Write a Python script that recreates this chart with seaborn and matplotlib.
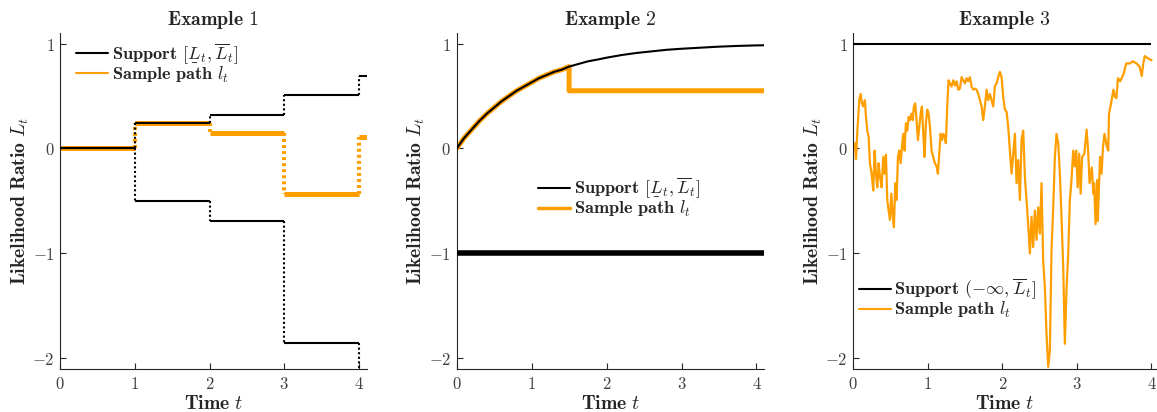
import pandas as pd
import matplotlib.pyplot as plt
import seaborn as sns
from matplotlib.lines import Line2D
from matplotlib.mathtext import MathTextParser

sns.set_theme(style="ticks")
plt.rcParams['mathtext.fontset'] = 'cm'
plt.rcParams['axes.unicode_minus'] = True

# ---------------------------------------------------------------------------
# data
# ---------------------------------------------------------------------------
# Example 1: piecewise constant support and sample path, jumps at integer times
ex1_times = [0, 1, 2, 3, 4, 4.1]
ex1_upper = [0.00, 0.24, 0.32, 0.51, 0.69]
ex1_lower = [0.00, -0.50, -0.69, -1.85, -2.30]
ex1_path = [0.00, 0.24, 0.15, -0.43, 0.11]

# Example 2: smooth upper bound, flat lower bound, path jumps down at t=1.5
ex2_t = [0, 0.1, 0.2, 0.3, 0.4, 0.5, 0.6, 0.7, 0.8, 0.9, 1.0, 1.1, 1.2, 1.3,
         1.4, 1.5, 1.6, 1.75, 1.9, 2.0, 2.2, 2.4, 2.6, 2.8, 3.0, 3.25, 3.5,
         3.75, 4.0, 4.1]
ex2_upper = [0.00, 0.10, 0.18, 0.26, 0.33, 0.39, 0.45, 0.50, 0.55, 0.59,
             0.63, 0.67, 0.70, 0.73, 0.75, 0.78, 0.80, 0.83, 0.85, 0.865,
             0.89, 0.91, 0.925, 0.94, 0.95, 0.96, 0.97, 0.977, 0.982, 0.983]
ex2_lower = -1.0
ex2_jump_t = 1.5
ex2_path_after = 0.55

# Example 3: constant upper bound, noisy sample path
ex3_upper = 1.0
ex3_t = [0.000, 0.022, 0.036, 0.058, 0.080, 0.098, 0.116, 0.134, 0.156, 0.170,
         0.188, 0.206, 0.223, 0.246, 0.268, 0.286, 0.304, 0.322, 0.340, 0.358,
         0.380, 0.402, 0.420, 0.438, 0.456, 0.474, 0.492, 0.510, 0.527, 0.545,
         0.563, 0.581, 0.599, 0.617, 0.635, 0.653, 0.670, 0.688, 0.706, 0.724,
         0.742, 0.760, 0.778, 0.796, 0.813, 0.831, 0.849, 0.867, 0.885, 0.903,
         0.921, 0.939, 0.956, 0.974, 0.992, 1.010, 1.028, 1.050, 1.073, 1.095,
         1.117, 1.135, 1.153, 1.171, 1.189, 1.207, 1.225, 1.242, 1.260, 1.278,
         1.296, 1.318, 1.341, 1.363, 1.385, 1.408, 1.430, 1.453, 1.475, 1.497,
         1.520, 1.542, 1.564, 1.587, 1.609, 1.631, 1.654, 1.676, 1.698, 1.721,
         1.743, 1.765, 1.788, 1.810, 1.832, 1.855, 1.877, 1.899, 1.922, 1.944,
         1.966, 1.989, 2.011, 2.034, 2.056, 2.078, 2.101, 2.123, 2.145, 2.168,
         2.190, 2.212, 2.235, 2.257, 2.279, 2.302, 2.324, 2.346, 2.369, 2.391,
         2.413, 2.436, 2.458, 2.480, 2.503, 2.525, 2.547, 2.570, 2.592, 2.615,
         2.637, 2.659, 2.682, 2.704, 2.726, 2.749, 2.771, 2.793, 2.816, 2.838,
         2.860, 2.883, 2.905, 2.927, 2.950, 2.972,
         2.99, 3.01, 3.03, 3.05, 3.07, 3.10, 3.13, 3.15, 3.17, 3.20,
         3.22, 3.23, 3.25, 3.27, 3.28, 3.31, 3.33, 3.35, 3.37, 3.40,
         3.42, 3.43, 3.45, 3.49, 3.51, 3.53, 3.55, 3.58, 3.60, 3.63,
         3.66, 3.71, 3.75, 3.80, 3.84, 3.87, 3.89, 3.91, 3.95, 4.00]
ex3_path = [0.00, 0.05, -0.10, 0.21, 0.46, 0.52, 0.43, 0.40, 0.46, 0.30,
            0.17, 0.11, -0.14, -0.24, -0.40, -0.02, -0.24, -0.37, -0.14, -0.27,
            -0.37, -0.08, -0.24, -0.06, -0.49, -0.59, -0.68, -0.43, -0.62, -0.75,
            -0.33, -0.49, -0.08, -0.02, -0.14, 0.02, 0.14, -0.02, 0.24, 0.17,
            0.30, 0.27, 0.33, 0.27, 0.40, 0.43, 0.27, 0.08, 0.21, 0.33,
            0.40, 0.14, -0.08, 0.24, 0.37, 0.33, 0.21, -0.02, -0.08, -0.14,
            -0.17, -0.24, -0.05, 0.14, 0.08, 0.14, 0.11, 0.05, 0.40, 0.65,
            0.62, 0.59, 0.65, 0.60, 0.64, 0.56, 0.57, 0.68, 0.65, 0.62,
            0.67, 0.64, 0.68, 0.59, 0.56, 0.57, 0.56, 0.52, 0.46, 0.40,
            0.27, 0.40, 0.56, 0.46, 0.52, 0.46, 0.40, 0.59, 0.62, 0.68,
            0.73, 0.68, 0.49, 0.37, 0.35, 0.21, -0.02, -0.24, -0.05, 0.14,
            -0.33, -0.11, -0.49, 0.08, 0.17, -0.27, -0.49, -0.72, -1.00, -0.65,
            -0.94, -0.59, -0.87, -0.56, -0.81, -0.33, -1.07, -1.32, -1.77, -2.08,
            -1.92, -0.97, -0.56, -0.08, 0.14, 0.05, -0.24, -0.65, -1.13, -1.86,
            -1.35, -1.00, -0.49, -0.30, -0.02, -0.17,
            -0.02, -0.37, -0.05, -0.43, -0.08, -0.05, 0.18, -0.02, -0.33, -0.18,
            -0.43, -0.33, -0.72, -0.30, -0.69, -0.08, -0.24, 0.02, 0.14, 0.02,
            -0.02, 0.33, 0.40, 0.56, 0.49, 0.48, 0.67, 0.64, 0.67, 0.72,
            0.81, 0.81, 0.83, 0.81, 0.78, 0.69, 0.81, 0.88, 0.86, 0.84]

titles = ['Example 1', 'Example 2', 'Example 3']
x_ticks = [0, 1, 2, 3, 4]
y_ticks = [-2, -1, 0, 1]

ORANGE = '#FF9E00'
BLACK = '#000000'
AXCOL = '#262626'


# \underline is not in every mathtext version, fall back to \underset
def under_L():
    try:
        MathTextParser('agg').parse(r'$\underline{L}$')
        return r'\underline{L}'
    except Exception:
        return r'\underset{\_}{L}'


UL = under_L()
label_support = r'$\mathbf{Support}\ [' + UL + r'_t,\overline{L}_t]$'
label_support3 = r'$\mathbf{Support}\ (-\infty,\overline{L}_t]$'
label_path = r'$\mathbf{Sample\ path}\ l_t$'


def style_axis(ax, title, xlim):
    ax.set_xlim(*xlim)
    ax.set_ylim(-2.1, 1.1)
    ax.set_xticks(x_ticks)
    ax.set_yticks(y_ticks)
    ax.set_xticklabels([f'${v}$' for v in x_ticks])
    ax.set_yticklabels([f'${v}$' for v in y_ticks])
    ax.tick_params(direction='in', length=4, width=0.8, colors=AXCOL,
                   labelsize=12, labelcolor='#404040', pad=4)
    for s in ['top', 'right']:
        ax.spines[s].set_visible(False)
    for s in ['left', 'bottom']:
        ax.spines[s].set_color(AXCOL)
        ax.spines[s].set_linewidth(0.8)
    ax.set_title(r'$\mathbf{' + title.replace(' ', r'\ ') + '}$',
                 fontsize=14.3, pad=6)
    ax.set_xlabel(r'$\mathbf{Time}\ t$', fontsize=14.2, labelpad=1)
    ax.set_ylabel(r'$\mathbf{Likelihood\ Ratio}\ L_t$', fontsize=14.2, labelpad=1)


def add_legend(ax, support_label, path_lw, anchor):
    handles = [Line2D([], [], color=BLACK, lw=1.5),
               Line2D([], [], color=ORANGE, lw=path_lw)]
    return ax.legend(handles, [support_label, label_path], loc='upper left',
                     bbox_to_anchor=anchor, frameon=False, fontsize=13.2,
                     handlelength=1.75, handletextpad=0.2, labelspacing=-0.1,
                     borderpad=0, borderaxespad=0)


fig = plt.figure(figsize=(11.57, 4.12), dpi=100)
ax1 = fig.add_axes([0.0519, 0.1044, 0.2649, 0.8155])
ax2 = fig.add_axes([0.3947, 0.1044, 0.2656, 0.8155])
ax3 = fig.add_axes([0.7375, 0.1044, 0.2616, 0.8155])

# ---------------------------------------------------------------- Example 1
starts, ends = ex1_times[:-1], ex1_times[1:]
ax1.hlines(ex1_path, starts, ends, color=ORANGE, lw=3.6, zorder=2)
ax1.vlines(ex1_times[1:-1], ex1_path[:-1], ex1_path[1:], color=ORANGE,
           lw=3.0, linestyles=(0, (0.7, 0.75)), zorder=2)
ax1.hlines(ex1_upper, starts, ends, color=BLACK, lw=1.5, zorder=3)
ax1.hlines(ex1_lower, starts, ends, color=BLACK, lw=1.5, zorder=3)
ax1.vlines(ex1_times[1:-1], ex1_upper[:-1], ex1_upper[1:], color=BLACK,
           lw=1.5, linestyles=(0, (1, 1.2)), zorder=3)
ax1.vlines(ex1_times[1:-1], ex1_lower[:-1], ex1_lower[1:], color=BLACK,
           lw=1.5, linestyles=(0, (1, 1.2)), zorder=3)
style_axis(ax1, titles[0], (0, 4.1))
add_legend(ax1, label_support, 1.5, (0.052, 0.975))

# ---------------------------------------------------------------- Example 2
df2 = pd.DataFrame({'t': ex2_t, 'upper': ex2_upper})
before = df2[df2['t'] <= ex2_jump_t]
path2 = pd.DataFrame({
    't': list(before['t']) + [ex2_jump_t, ex2_t[-1]],
    'l': list(before['upper']) + [ex2_path_after, ex2_path_after],
})
sns.lineplot(data=path2, x='t', y='l', ax=ax2, color=ORANGE, lw=3.6,
             estimator=None, sort=False, zorder=2)
sns.lineplot(data=df2, x='t', y='upper', ax=ax2, color=BLACK, lw=1.5,
             estimator=None, sort=False, zorder=3)
ax2.axhline(ex2_lower, color=BLACK, lw=4.0, zorder=3)
style_axis(ax2, titles[1], (0, 4.1))
add_legend(ax2, label_support, 2.5, (0.265, 0.575))

# ---------------------------------------------------------------- Example 3
df3 = pd.DataFrame({'t': ex3_t, 'l': ex3_path})
sns.lineplot(data=df3, x='t', y='l', ax=ax3, color=ORANGE, lw=1.6,
             estimator=None, sort=False, zorder=2)
ax3.hlines(ex3_upper, 0, 4, color=BLACK, lw=1.5, zorder=3)
style_axis(ax3, titles[2], (0, 4.06))
add_legend(ax3, label_support3, 1.5, (0.018, 0.275))

fig.savefig('out.png', dpi=100)
